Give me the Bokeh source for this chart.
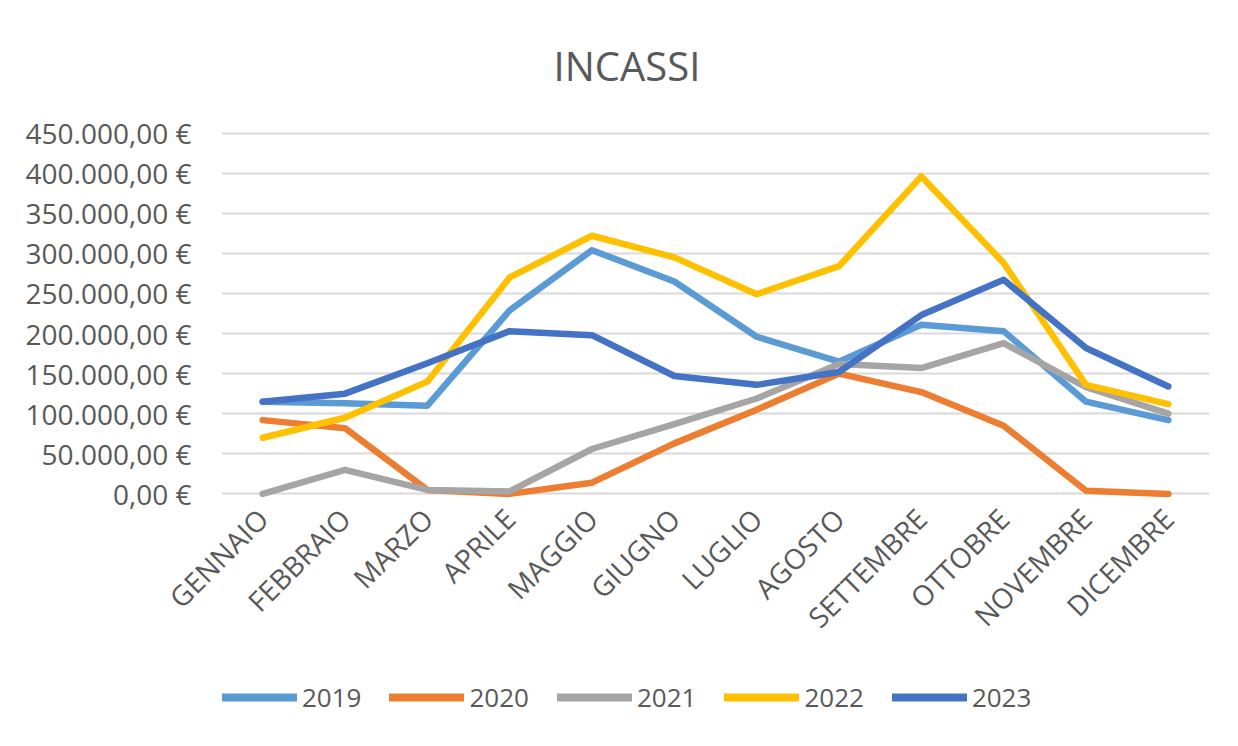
import math
from bokeh.plotting import figure
from bokeh.layouts import column
from bokeh.models import FactorRange, Range1d, FixedTicker, Legend, LegendItem
from bokeh.embed import file_html
from bokeh.resources import INLINE

months = ["GENNAIO", "FEBBRAIO", "MARZO", "APRILE", "MAGGIO", "GIUGNO",
          "LUGLIO", "AGOSTO", "SETTEMBRE", "OTTOBRE", "NOVEMBRE", "DICEMBRE"]

v2019 = [115000, 113000, 110000, 229000, 304000, 265000, 196000, 165000, 211000, 203000, 115000, 92000]
v2020 = [92000, 82000, 5000, 0, 14000, 63000, 105000, 150000, 127000, 85000, 4000, 0]
v2021 = [0, 30000, 5000, 3000, 56000, 87000, 119000, 162000, 157000, 188000, 133000, 100000]
v2022 = [70000, 95000, 140000, 270000, 322000, 295000, 249000, 284000, 396000, 288000, 136000, 112000]
v2023 = [115000, 125000, 163000, 203000, 198000, 147000, 136000, 152000, 223000, 267000, 182000, 134000]

series_names = ["2019", "2020", "2021", "2022", "2023"]
series_values = [v2019, v2020, v2021, v2022, v2023]
colors = ["#5B9BD5", "#ED7D31", "#A5A5A5", "#FFC000", "#4472C4"]

y_ticks = [0, 50000, 100000, 150000, 200000, 250000, 300000, 350000, 400000, 450000]
y_tick_labels = ["0,00 €", "50.000,00 €", "100.000,00 €", "150.000,00 €", "200.000,00 €",
                 "250.000,00 €", "300.000,00 €", "350.000,00 €", "400.000,00 €", "450.000,00 €"]

FONT = "Open Sans"
GREY = "#595959"

p = figure(width=1230, height=660, x_range=FactorRange(*months, range_padding=0),
           y_range=Range1d(-7000, 457000), output_backend="svg", toolbar_location=None,
           min_border_left=221, min_border_right=21, min_border_top=127, min_border_bottom=161)

p.title.text = "INCASSI"
p.title.text_font = FONT
p.title.text_font_size = "40px"
p.title.text_font_style = "normal"
p.title.text_color = GREY
p.title.align = "left"
p.title.offset = 332
p.title.standoff = 70

p.outline_line_color = None
p.background_fill_color = "white"
p.border_fill_color = "white"

p.xgrid.grid_line_color = None
p.ygrid.grid_line_color = "#D9D9D9"
p.ygrid.grid_line_width = 2
p.yaxis.ticker = FixedTicker(ticks=y_ticks)
p.yaxis.major_label_overrides = {t: l for t, l in zip(y_ticks, y_tick_labels)}
p.ygrid.ticker = FixedTicker(ticks=y_ticks)

for ax in (p.xaxis[0], p.yaxis[0]):
    ax.axis_line_color = None
    ax.major_tick_line_color = None
    ax.minor_tick_line_color = None
    ax.major_label_text_font = FONT
    ax.major_label_text_font_size = "28px"
    ax.major_label_text_color = GREY

p.yaxis.major_label_standoff = 24
p.xaxis.major_label_orientation = math.pi / 4
p.xaxis.major_label_standoff = 8

for name, vals, c in zip(series_names, series_values, colors):
    p.line(x=months, y=vals, line_color=c, line_width=6.5,
           line_join="round", line_cap="round")

# legend strip below the chart (its frame is aligned with the chart's frame)
lg = figure(width=1230, height=78, x_range=Range1d(0, 1), y_range=Range1d(0, 1),
            output_backend="svg", toolbar_location=None,
            min_border_left=0, min_border_right=0, min_border_top=0, min_border_bottom=0)
lg.axis.visible = False
lg.grid.visible = False
lg.outline_line_color = None
lg.background_fill_color = "white"
lg.border_fill_color = "white"
items = []
for name, c in zip(series_names, colors):
    r = lg.line(x=[-5, -4], y=[-5, -5], line_color=c, line_width=8, line_cap="round")
    items.append(LegendItem(label=name, renderers=[r]))
legend = Legend(items=items, orientation="horizontal", location=(1, 23),
                glyph_width=75, glyph_height=30, label_height=30, label_standoff=5,
                spacing=28, padding=0, margin=0, border_line_color=None,
                background_fill_alpha=0,
                label_text_font=FONT, label_text_font_size="26px", label_text_color=GREY)
lg.add_layout(legend, "center")

open("out.html", "w").write(file_html(column(p, lg, spacing=0), INLINE))
